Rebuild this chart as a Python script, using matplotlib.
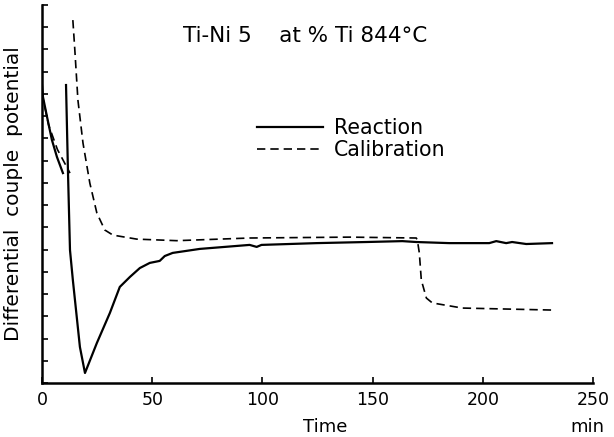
import matplotlib
matplotlib.use('agg')
import matplotlib.pyplot as plt
import numpy as np

# reaction trace, first short piece and main piece (min, arbitrary units)
react1_t = [0.0, 0.45, 2.3, 4.5, 6.8, 9.5]
react1_v = [13.4, 12.86, 11.96, 10.93, 10.16, 9.44]
react2_t = [10.9, 11.8, 12.7, 14.0, 17.2, 19.5, 24.9, 30.8, 35.3, 39.9, 44.4, 48.9,
            53.4, 55.7, 59.3, 71.6, 94.2, 97.4, 99.6, 124.5, 147.2, 163.5, 169.8,
            184.8, 202.9, 206.1, 210.6, 213.3, 219.7, 231.4]
react2_v = [13.4, 9.44, 5.98, 4.63, 1.62, 0.45, 1.80, 3.15, 4.32, 4.77, 5.17, 5.40,
            5.49, 5.71, 5.85, 6.03, 6.21, 6.12, 6.21, 6.29, 6.34, 6.38, 6.34,
            6.29, 6.29, 6.38, 6.29, 6.34, 6.25, 6.29]

# calibration trace
calib1_t = [0.0, 3.0, 7.0, 12.7]
calib1_v = [13.0, 11.6, 10.5, 9.44]
calib2_t = [14.0, 14.9, 16.3, 18.6, 21.7, 24.9, 28.5, 32.2, 43.0, 61.1, 94.2, 139.5,
            169.8, 170.3, 171.2, 172.1, 174.4, 177.1, 190.7, 231.4]
calib2_v = [16.32, 14.97, 12.72, 10.79, 8.99, 7.64, 6.88, 6.65, 6.47, 6.40, 6.52, 6.56,
            6.52, 6.43, 5.85, 4.63, 3.82, 3.60, 3.37, 3.28]

xticks = [0, 50, 100, 150, 200, 250]

fnt = 'DejaVu Sans'
fig = plt.figure(figsize=(6.14, 4.37), dpi=100)
ax = fig.add_axes([0.0684, 0.1236, 0.8974, 0.865])

ax.plot(react1_t, react1_v, c='k', lw=1.6)
ax.plot(react2_t, react2_v, c='k', lw=1.6, label='Reaction')
ax.plot(calib1_t, calib1_v, c='k', lw=1.2, ls=(0, (5, 3)))
ax.plot(calib2_t, calib2_v, c='k', lw=1.2, ls=(0, (5, 3)), label='Calibration')

ax.set_xlim(0, 250)
ax.set_ylim(0, 17)
ax.set_xticks(xticks)
ax.set_xticklabels([str(t) for t in xticks], fontsize=12.5, family=fnt)
ax.set_yticks(np.arange(0, 18, 1))
ax.set_yticklabels([])
ax.tick_params(direction='in', length=4, width=1.2, pad=6)
for s in ['top', 'right']:
    ax.spines[s].set_visible(False)
for s in ['left', 'bottom']:
    ax.spines[s].set_linewidth(1.8)

ax.set_ylabel('Differential  couple  potential', fontsize=14.5, family=fnt, labelpad=8)
fig.text(0.529, 0.011, 'Time', fontsize=13, family=fnt, ha='center')
fig.text(0.956, 0.011, 'min', fontsize=13, family=fnt, ha='center')
fig.text(0.497, 0.905, 'Ti-Ni 5    at % Ti 844\u00b0C', fontsize=15.5, family=fnt, ha='center')

ax.legend(loc='upper left', bbox_to_anchor=(0.372, 0.728), frameon=False,
          prop={'family': fnt, 'size': 14.8}, handlelength=3.2, handletextpad=0.55,
          labelspacing=0.1, borderpad=0)

fig.savefig('out.png', dpi=100)
